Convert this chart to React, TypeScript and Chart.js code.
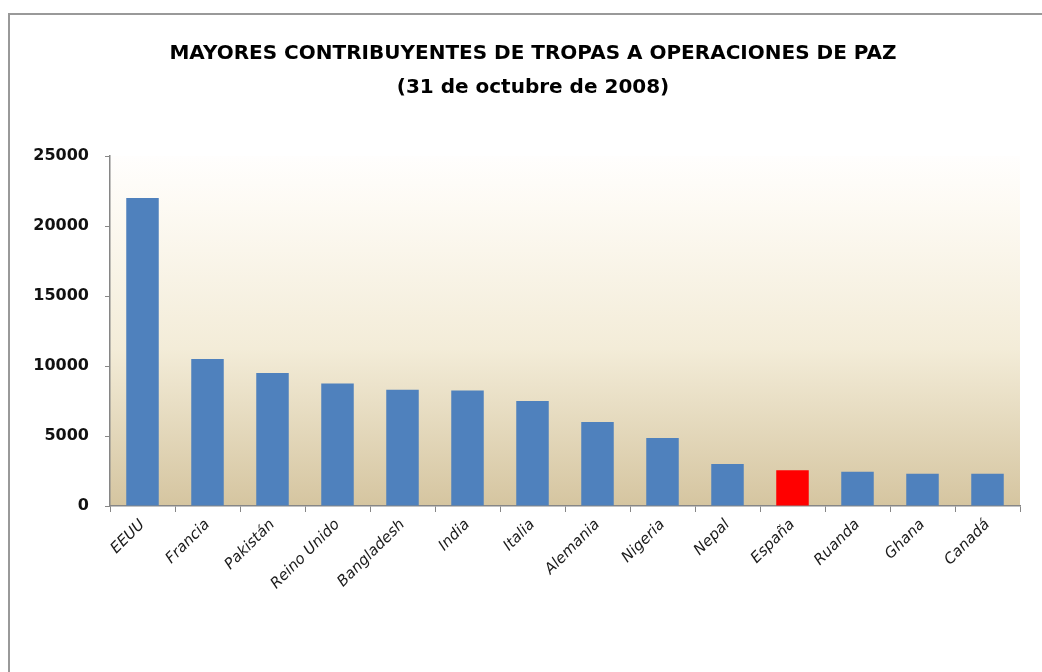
import React, { useEffect, useRef } from "react";
import { Chart, registerables } from "chart.js";

Chart.register(...registerables);

const categories = [
  "EEUU", "Francia", "Pakistán", "Reino Unido", "Bangladesh", "India", "Italia",
  "Alemania", "Nigeria", "Nepal", "España", "Ruanda", "Ghana", "Canadá",
];
const troops = [22000, 10500, 9500, 8750, 8300, 8250, 7500, 6000, 4850, 3000, 2550, 2450, 2300, 2300];
const highlighted = "España";
const titleLines = ["MAYORES CONTRIBUYENTES DE TROPAS A OPERACIONES DE PAZ", "(31 de octubre de 2008)"];
const yMax = 25000;
const yStep = 5000;

const BLUE = "#4F81BD";
const RED = "#FF0000";

const bgPlugin = {
  id: "plotBg",
  beforeDraw(chart: any) {
    const { ctx, chartArea } = chart;
    if (!chartArea) return;
    const g = ctx.createLinearGradient(0, chartArea.top, 0, chartArea.bottom);
    g.addColorStop(0, "#fffefd");
    g.addColorStop(0.15, "#fdfaf3");
    g.addColorStop(0.55, "#f3ecd8");
    g.addColorStop(1, "#d5c5a0");
    ctx.save();
    ctx.fillStyle = g;
    ctx.fillRect(chartArea.left, chartArea.top, chartArea.right - chartArea.left, chartArea.bottom - chartArea.top);
    ctx.restore();
  },
};

const titlePlugin = {
  id: "centeredTitle",
  afterDraw(chart: any) {
    const { ctx } = chart;
    ctx.save();
    ctx.fillStyle = "#000";
    ctx.font = "bold 20px 'DejaVu Sans'";
    ctx.textAlign = "center";
    ctx.textBaseline = "middle";
    ctx.fillText(titleLines[0], 533, 54);
    ctx.fillText(titleLines[1], 533, 88);
    ctx.restore();
  },
};

export default function App() {
  const ref = useRef<HTMLCanvasElement>(null);
  useEffect(() => {
    if (!ref.current) return;
    const chart = new Chart(ref.current, {
      type: "bar",
      data: {
        labels: categories,
        datasets: [
          {
            data: troops,
            backgroundColor: categories.map((c) => (c === highlighted ? RED : BLUE)),
            barPercentage: 0.5,
            categoryPercentage: 1,
          },
        ],
      },
      options: {
        animation: false,
        responsive: false,
        maintainAspectRatio: false,
        layout: { padding: { left: 12, right: 22, top: 156, bottom: 4 } },
        plugins: {
          legend: { display: false },
          tooltip: { enabled: false },
          title: { display: false },
        },
        scales: {
          x: {
            grid: { display: true, drawOnChartArea: false, drawTicks: true, tickLength: 6, color: "#868686", offset: true },
            border: { display: true, color: "#868686", width: 1.5 },
            ticks: {
              color: "#1a1a1a",
              font: { family: "'DejaVu Sans'", size: 15, style: "italic" },
              maxRotation: 45,
              minRotation: 45,
              autoSkip: false,
              padding: 4,
            },
            afterFit: (s: any) => {
              s.height = 162;
            },
          },
          y: {
            min: 0,
            max: yMax,
            grid: { display: true, drawOnChartArea: false, drawTicks: true, tickLength: 5, color: "#868686" },
            border: { display: true, color: "#868686", width: 1.5 },
            ticks: {
              stepSize: yStep,
              color: "#111",
              font: { family: "'DejaVu Sans'", size: 16, weight: "bold" },
              padding: 16,
              callback: (v: any) => String(v),
            },
            afterFit: (s: any) => {
              s.width = 98;
            },
          },
        },
      },
      plugins: [bgPlugin, titlePlugin],
    });
    return () => chart.destroy();
  }, []);

  return (
    <div style={{ position: "absolute", left: 0, top: 0, width: 1042, height: 672, background: "#fff", overflow: "hidden" }}>
      <div
        style={{
          position: "absolute",
          left: 8,
          top: 13,
          width: 1040,
          height: 670,
          borderTop: "2px solid #999",
          borderLeft: "2px solid #999",
        }}
      />
      <canvas ref={ref} width={1042} height={672} style={{ position: "absolute", left: 0, top: 0 }} />
    </div>
  );
}
